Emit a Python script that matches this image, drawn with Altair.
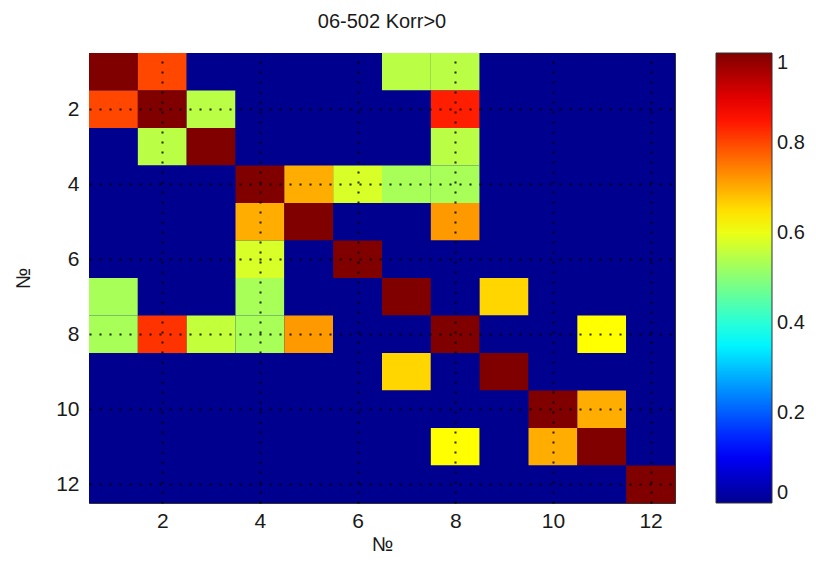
import altair as alt
import pandas as pd

# Correlation matrix (rows top->bottom = № 1..12, columns = № 1..12)
row1 = [1.00, 0.80, 0, 0, 0, 0, 0.55, 0.55, 0, 0, 0, 0]
row2 = [0.80, 1.00, 0.55, 0, 0, 0, 0, 0.84, 0, 0, 0, 0]
row3 = [0, 0.55, 1.00, 0, 0, 0, 0, 0.55, 0, 0, 0, 0]
row4 = [0, 0, 0, 1.00, 0.70, 0.58, 0.53, 0.53, 0, 0, 0, 0]
row5 = [0, 0, 0, 0.70, 1.00, 0, 0, 0.72, 0, 0, 0, 0]
row6 = [0, 0, 0, 0.58, 0, 1.00, 0, 0, 0, 0, 0, 0]
row7 = [0.53, 0, 0, 0.53, 0, 0, 1.00, 0, 0.66, 0, 0, 0]
row8 = [0.53, 0.82, 0.56, 0.53, 0.72, 0, 0, 1.00, 0, 0, 0.62, 0]
row9 = [0, 0, 0, 0, 0, 0, 0.66, 0, 1.00, 0, 0, 0]
row10 = [0, 0, 0, 0, 0, 0, 0, 0, 0, 1.00, 0.70, 0]
row11 = [0, 0, 0, 0, 0, 0, 0, 0.62, 0, 0.70, 1.00, 0]
row12 = [0, 0, 0, 0, 0, 0, 0, 0, 0, 0, 0, 1.00]
rows = [row1, row2, row3, row4, row5, row6, row7, row8, row9, row10, row11, row12]

ticks = [2, 4, 6, 8, 10, 12]
cbar_ticks = [0, 0.2, 0.4, 0.6, 0.8, 1]
jet_stops = [0, 0.11, 0.36, 0.62, 0.87, 1]
jet_colors = ["#00008F", "#0000FF", "#00FFFF", "#FFFF00", "#FF0000", "#800000"]

recs = []
for i, r in enumerate(rows):
    for j, v in enumerate(r):
        recs.append({"row": i + 1, "col": j + 1, "r0": i + 0.5, "r1": i + 1.5,
                     "c0": j + 0.5, "c1": j + 1.5, "v": v})
df = pd.DataFrame(recs)

FONT = "Liberation Sans"
TXT = "#1a1a1a"

jet = alt.Scale(domain=jet_stops, range=jet_colors, interpolate="rgb")

xaxis = alt.Axis(values=ticks, grid=True, gridDash=[2, 8], gridColor="black",
                 gridWidth=2, gridOpacity=0.85, ticks=False, domain=False,
                 labelFontSize=21, labelColor=TXT, labelFont=FONT,
                 labelPadding=7, title="№", titleFontSize=20, titleFont=FONT,
                 titleFontWeight="normal", titleColor=TXT, titlePadding=3,
                 zindex=1)
yaxis = alt.Axis(values=ticks, grid=True, gridDash=[2, 8], gridColor="black",
                 gridWidth=2, gridOpacity=0.85, ticks=False, domain=False,
                 labelFontSize=21, labelColor=TXT, labelFont=FONT,
                 labelPadding=10, title="№", titleFontSize=20, titleFont=FONT,
                 titleFontWeight="normal", titleColor=TXT, titlePadding=22,
                 zindex=1)

chart = alt.Chart(df).mark_rect(strokeWidth=0).encode(
    x=alt.X("c0:Q", scale=alt.Scale(domain=[0.5, 12.5], nice=False, zero=False), axis=xaxis),
    x2="c1",
    y=alt.Y("r0:Q", scale=alt.Scale(domain=[0.5, 12.5], nice=False, zero=False, reverse=True), axis=yaxis),
    y2="r1",
    color=alt.Color("v:Q", scale=jet,
                    legend=alt.Legend(type="gradient", orient="none", legendX=627, legendY=0,
                                      direction="vertical", title=None,
                                      gradientLength=450, gradientThickness=56,
                                      gradientStrokeColor="#333", gradientStrokeWidth=1,
                                      values=cbar_ticks, format="~g",
                                      labelFontSize=20, labelFont=FONT,
                                      labelColor=TXT, labelBaseline="middle",
                                      labelOffset=5, labelOverlap=False)),
).properties(
    width=586, height=450,
    title=alt.Title("06-502 Korr>0", fontSize=20, font=FONT, fontWeight="normal",
                    color=TXT, offset=21),
    autosize=alt.AutoSizeParams(type="none"),
    padding={"left": 81, "top": 45, "right": 133, "bottom": 58},
).configure_view(stroke="#333", strokeWidth=1, fill="#00008F")

chart.save("out.html", embed_options={"renderer": "svg", "actions": False})
